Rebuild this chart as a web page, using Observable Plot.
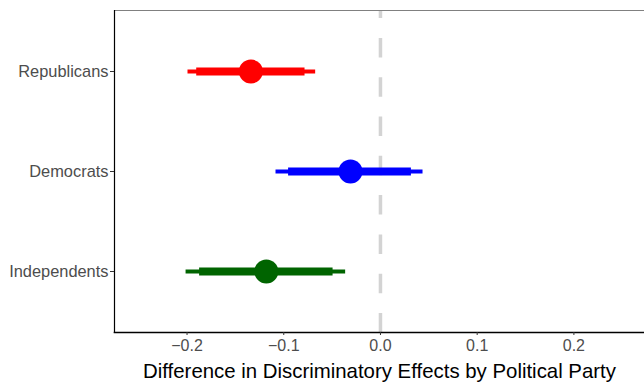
<!DOCTYPE html>
<html>
<head>
<meta charset="utf-8">
<script src="https://cdn.jsdelivr.net/npm/d3@7"></script>
<script src="https://cdn.jsdelivr.net/npm/@observablehq/plot@0.6"></script>
<style>
  html, body { margin: 0; padding: 0; background: #fff; overflow: hidden; }
  svg { display: block; font-family: "Liberation Sans", Arial, sans-serif; }
</style>
</head>
<body>
<div id="chart"></div>
<script>
const parties = ["Republicans", "Democrats", "Independents"];
const estimates = [-0.134, -0.031, -0.118];
const lo90 = [-0.190, -0.095, -0.187];
const hi90 = [-0.078, 0.032, -0.049];
const lo95 = [-0.199, -0.108, -0.201];
const hi95 = [-0.067, 0.044, -0.036];
const partyColors = ["#ff0000", "#0000ff", "#006400"];
const xTicks = [-0.2, -0.1, 0.0, 0.1, 0.2];
const xTitle = "Difference in Discriminatory Effects by Political Party";

const data = parties.map((p, i) => ({
  party: p, est: estimates[i], lo90: lo90[i], hi90: hi90[i], lo95: lo95[i], hi95: hi95[i]
}));

const chart = Plot.plot({
  width: 644,
  height: 385,
  marginLeft: 114,
  marginRight: 0,
  marginTop: 10,
  marginBottom: 53,
  style: { fontFamily: '"Liberation Sans", Arial, sans-serif', background: "#fff" },
  x: { domain: [-0.275, 0.273], label: null },
  y: { type: "point", domain: parties, padding: 0.6, label: null },
  color: { domain: parties, range: partyColors },
  marks: [
    Plot.ruleX([0], { stroke: "#d3d3d3", strokeWidth: 3.5, strokeDasharray: "19.5,19.8", strokeDashoffset: 11.4 }),
    Plot.frame({ anchor: "top", stroke: "#808080", strokeWidth: 1 }),
    Plot.frame({ anchor: "left", stroke: "#000", strokeWidth: 1.2 }),
    Plot.frame({ anchor: "bottom", stroke: "#000", strokeWidth: 1.6 }),
    Plot.axisY({ tickSize: 4, tickPadding: 2, fontSize: 16.4, color: "#4d4d4d", stroke: "#333", label: null }),
    Plot.axisX({ ticks: xTicks, tickFormat: d3.format(".1f"), tickSize: 3, tickPadding: 4, fontSize: 16, color: "#4d4d4d", stroke: "#333", label: null }),
    Plot.ruleY(data, { y: "party", x1: "lo95", x2: "hi95", stroke: "party", strokeWidth: 4, strokeLinecap: "butt" }),
    Plot.ruleY(data, { y: "party", x1: "lo90", x2: "hi90", stroke: "party", strokeWidth: 8, strokeLinecap: "butt" }),
    Plot.dot(data, { x: "est", y: "party", fill: "party", r: 12, stroke: null }),
    Plot.text([xTitle], { text: d => d, frameAnchor: "bottom", lineAnchor: "bottom", dy: 45, fontSize: 20.4, fill: "#000" })
  ]
});
document.getElementById("chart").appendChild(chart);
</script>
</body>
</html>
